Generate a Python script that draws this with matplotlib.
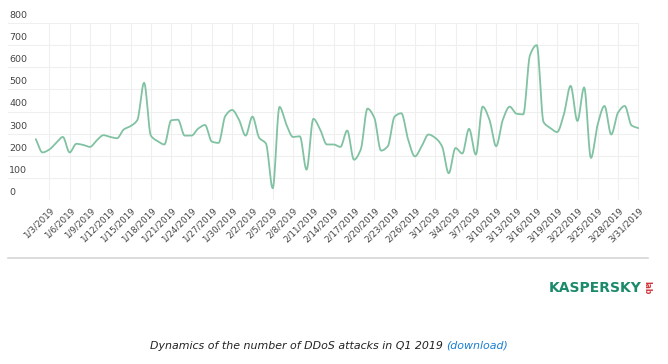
import numpy as np
import pandas as pd
import matplotlib
matplotlib.use("Agg")
import matplotlib.pyplot as plt
from matplotlib.lines import Line2D

# daily number of DDoS attacks, 1 Jan - 31 Mar 2019
dates = pd.date_range("2019-01-01", "2019-03-31", freq="D")
attacks = [275, 215, 228, 258, 285, 215, 254, 249, 240, 269, 293, 285, 279, 319, 334,
           361, 530, 291, 266, 251, 360, 363, 291, 291, 323, 339, 264, 258, 380, 407,
           364, 291, 377, 281, 255, 53, 421, 342, 285, 288, 137, 367, 319, 251, 251,
           240, 314, 182, 228, 413, 372, 223, 243, 377, 392, 273, 197, 243, 296, 281,
           243, 121, 235, 210, 322, 205, 422, 364, 243, 364, 422, 390, 387, 655, 700,
           352, 326, 307, 387, 516, 357, 509, 190, 342, 425, 296, 395, 425, 337, 325]
y_ticks = [0, 100, 200, 300, 400, 500, 600, 700, 800]
tick_every = 3
tick_start = 2  # first labelled day is 1/3/2019

LINE_COLOR = "#80c2a2"
GRID_COLOR = "#efefef"
TEXT_COLOR = "#444444"


def smooth(x, y, n=12):
    # monotone cubic (Fritsch-Carlson) so the spline does not overshoot
    x = np.asarray(x, float)
    y = np.asarray(y, float)
    h = np.diff(x)
    d = np.diff(y) / h
    m = np.zeros_like(y)
    m[0], m[-1] = d[0], d[-1]
    for i in range(1, len(y) - 1):
        if d[i - 1] * d[i] > 0:
            m[i] = 2 / (1 / d[i - 1] + 1 / d[i])
    xs, ys = [], []
    for i in range(len(x) - 1):
        t = np.linspace(0, 1, n, endpoint=False)
        h00 = 2 * t**3 - 3 * t**2 + 1
        h10 = t**3 - 2 * t**2 + t
        h01 = -2 * t**3 + 3 * t**2
        h11 = t**3 - t**2
        xs.append(x[i] + t * h[i])
        ys.append(h00 * y[i] + h10 * h[i] * m[i] + h01 * y[i + 1] + h11 * h[i] * m[i + 1])
    xs.append([x[-1]])
    ys.append([y[-1]])
    return np.concatenate(xs), np.concatenate(ys)


days = np.arange(len(attacks))
xs, ys = smooth(days, attacks)

fig = plt.figure(figsize=(6.68, 3.64), dpi=100)
ax = fig.add_axes([8 / 668, 1 - 200 / 364, 631 / 668, 177 / 364])

ax.plot(xs, ys, color=LINE_COLOR, lw=1.3, solid_capstyle="round")

tick_days = days[tick_start::tick_every]
ax.set_xlim(-4.1, 89.1)
ax.set_ylim(0, 800)
ax.set_xticks(tick_days)
ax.set_yticks(y_ticks)
ax.grid(True, color=GRID_COLOR, lw=0.8)
ax.tick_params(length=0, labelbottom=False, labelleft=False)
for s in ax.spines.values():
    s.set_visible(False)

for v in y_ticks:
    ax.annotate(str(v), xy=(0, v), xycoords=("axes fraction", "data"),
                xytext=(0.8, 2.2), textcoords="offset points",
                ha="left", va="bottom", fontsize=6.8, color=TEXT_COLOR)

for d in tick_days:
    lbl = f"{dates[d].month}/{dates[d].day}/{dates[d].year}"
    ax.annotate(lbl, xy=(d, 0), xycoords=("data", "axes fraction"),
                xytext=(2.5, -6.5), textcoords="offset points",
                rotation=45, rotation_mode="anchor", ha="right", va="center",
                fontsize=6.3, color=TEXT_COLOR)

# separator line under the chart
fig.add_artist(Line2D([8 / 668, 648 / 668], [1 - 258 / 364] * 2,
                      color="#d6d6d6", lw=1.2, transform=fig.transFigure))

# logo
fig.text(549 / 668, 1 - 288 / 364, "KASPERSKY", fontsize=10, fontweight="bold",
         color="#1b8a6b", ha="left", va="center")
fig.text(647 / 668, 1 - 288 / 364, "lab", fontsize=5.5, color="#d0343a",
         rotation=270, ha="center", va="center", fontweight="bold")

# caption
cap = fig.text(150 / 668, 1 - 346 / 364, "Dynamics of the number of DDoS attacks in Q1 2019 ",
               fontsize=7.9, style="italic", color="#222222", ha="left", va="center")
fig.canvas.draw()
bb = cap.get_window_extent()
fig.text(bb.x1 / fig.bbox.width, 1 - 346 / 364, "(download)", fontsize=7.9,
         style="italic", color="#1a7fd4", ha="left", va="center")

fig.savefig("out.png", dpi=100, facecolor="white")
